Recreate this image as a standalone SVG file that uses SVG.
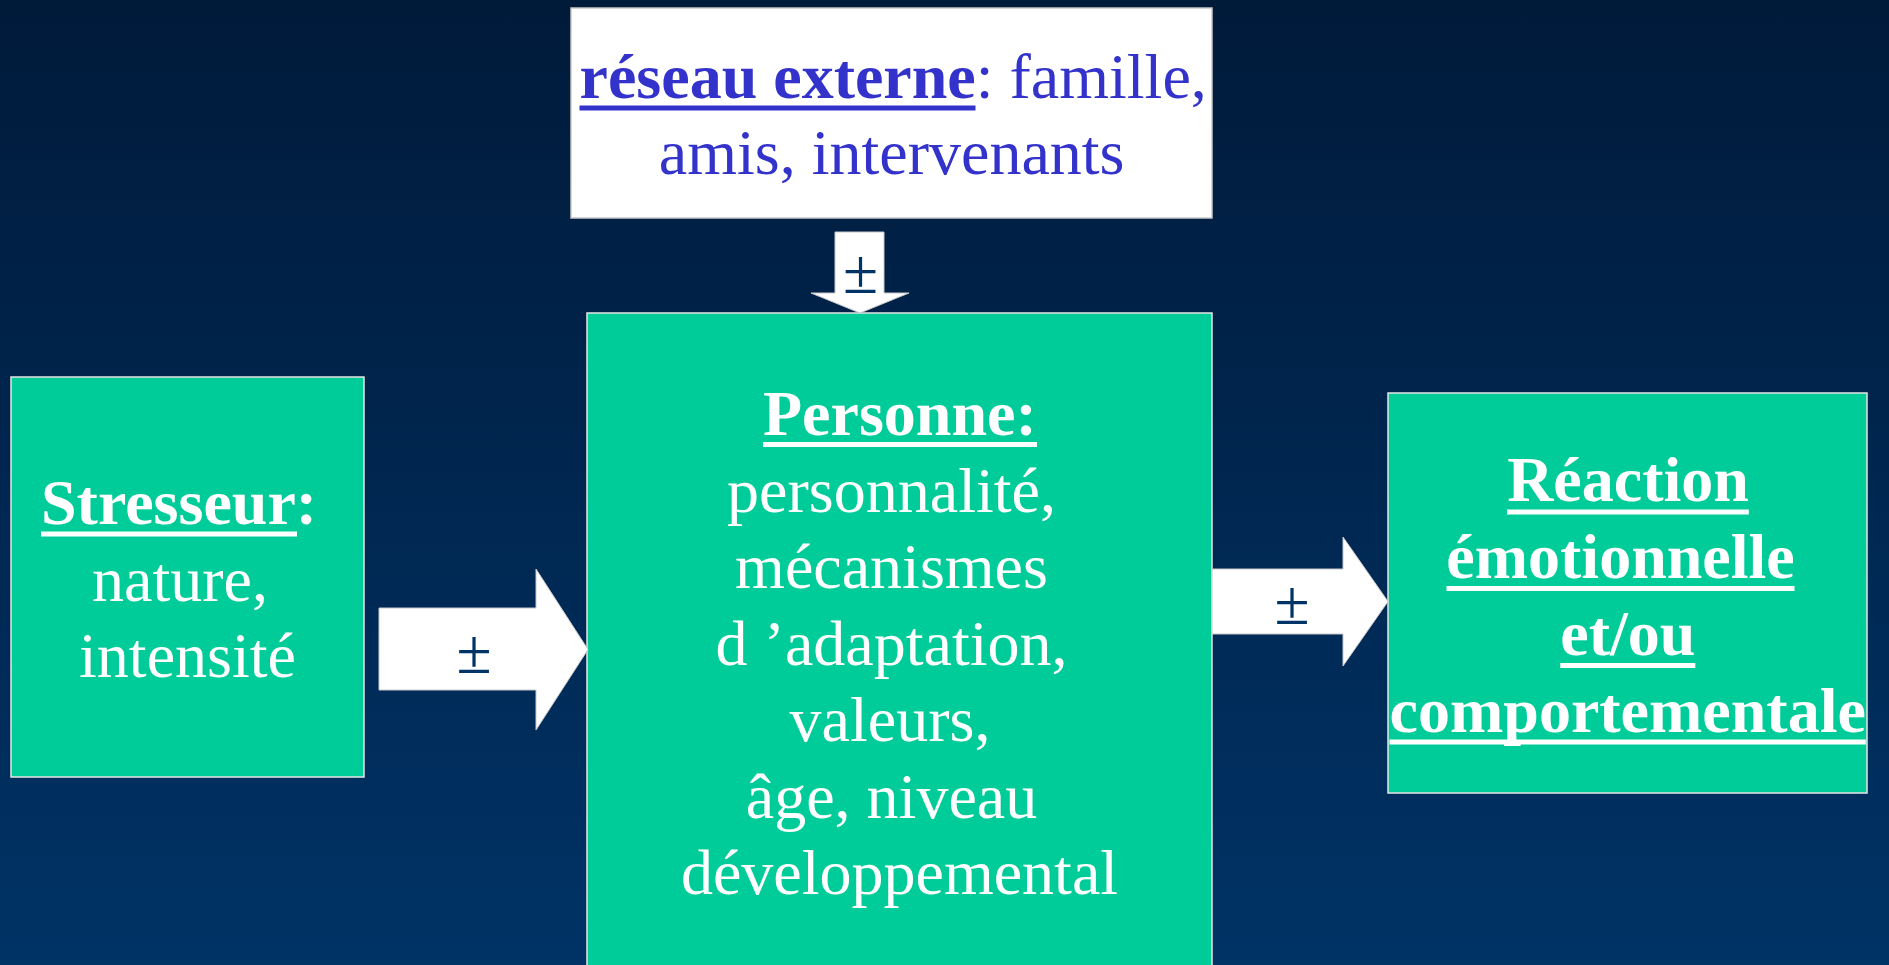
<svg xmlns="http://www.w3.org/2000/svg" width="1889" height="965" viewBox="0 0 1889 965">
  <defs>
    <linearGradient id="bg" x1="0" y1="0" x2="0" y2="1">
      <stop offset="0" stop-color="#001a3a"/>
      <stop offset="1" stop-color="#003366"/>
    </linearGradient>
    <style>
      .box { fill: #00cc99; stroke: #e6e6e6; stroke-width: 1.5; }
      .wbox { fill: #ffffff; stroke: #c8c8c8; stroke-width: 1.5; }
      .arrow { fill: #ffffff; stroke: #c8c8c8; stroke-width: 1; }
      .t { font-family: "Liberation Serif", "Times New Roman", serif; font-size: 64px; }
      .w { fill: #ffffff; }
      .b { fill: #3333cc; }
      .bold { font-weight: bold; }
      .pm { font-family: "Liberation Serif", "Times New Roman", serif; font-size: 64px; fill: #003366; text-anchor: middle; }
      .mid { text-anchor: middle; }
      .ulw { fill: #ffffff; }
      .ulb { fill: #3333cc; }
    </style>
  </defs>

  <rect x="0" y="0" width="1889" height="965" fill="url(#bg)"/>

  <!-- external network -->
  <g id="reseau">
    <rect class="wbox" x="571" y="8" width="641" height="210"/>
    <text class="t b" x="579.5" y="98"><tspan class="bold">réseau externe</tspan>: famille,</text>
    <rect class="ulb" x="579.5" y="105.5" width="396" height="5"/>
    <text class="t b mid" x="891.7" y="174">amis, intervenants</text>
  </g>

  <!-- stressor -->
  <g id="stresseur">
    <rect class="box" x="11" y="377" width="353" height="400"/>
    <text class="t w bold" x="41" y="524">Stresseur:</text>
    <rect class="ulw" x="41" y="531.5" width="256" height="5"/>
    <text class="t w mid" x="180" y="600.5">nature,</text>
    <text class="t w mid" x="187.5" y="677">intensité</text>
  </g>

  <!-- person -->
  <g id="personne">
    <rect class="box" x="587" y="313" width="625" height="662"/>
    <text class="t w bold" x="763" y="435">Personne:</text>
    <rect class="ulw" x="763" y="442" width="274" height="5"/>
    <text class="t w mid" x="891.5" y="511.5">personnalité,</text>
    <text class="t w mid" x="891.5" y="588">mécanismes</text>
    <text class="t w mid" x="891.5" y="664.5">d ’adaptation,</text>
    <text class="t w mid" x="890" y="741">valeurs,</text>
    <text class="t w mid" x="891.5" y="817.5">âge, niveau</text>
    <text class="t w mid" x="899.5" y="894">développemental</text>
  </g>

  <!-- reaction -->
  <g id="reaction">
    <rect class="box" x="1388" y="393" width="479" height="400"/>
    <text class="t w bold mid" x="1628" y="501">Réaction</text>
    <rect class="ulw" x="1507.1" y="509.5" width="241.7" height="5"/>
    <text class="t w bold mid" x="1620.5" y="578">émotionnelle</text>
    <rect class="ulw" x="1446.5" y="586" width="348" height="5"/>
    <text class="t w bold mid" x="1627.8" y="655">et/ou</text>
    <rect class="ulw" x="1560.3" y="663" width="135" height="5"/>
    <text class="t w bold mid" x="1627.7" y="731.5">comportementale</text>
    <rect class="ulw" x="1389.5" y="739.5" width="476.3" height="5"/>
  </g>

  <!-- influence arrows -->
  <g id="connectors">
    <g id="arrow-stresseur-personne">
      <polygon class="arrow" points="379,608 536,608 536,569 588,649.5 536,730 536,690 379,690"/>
      <text class="pm" x="474" y="673">±</text>
    </g>
    <g id="arrow-reseau-personne">
      <polygon class="arrow" points="835,232 884,232 884,293 909,293 860,313 811,293 835,293"/>
      <text class="pm" x="860.5" y="293">±</text>
    </g>
    <g id="arrow-personne-reaction">
      <polygon class="arrow" points="1212,569 1343,569 1343,537 1388,601.5 1343,666 1343,634 1212,634"/>
      <text class="pm" x="1292" y="624">±</text>
    </g>
  </g>
</svg>
